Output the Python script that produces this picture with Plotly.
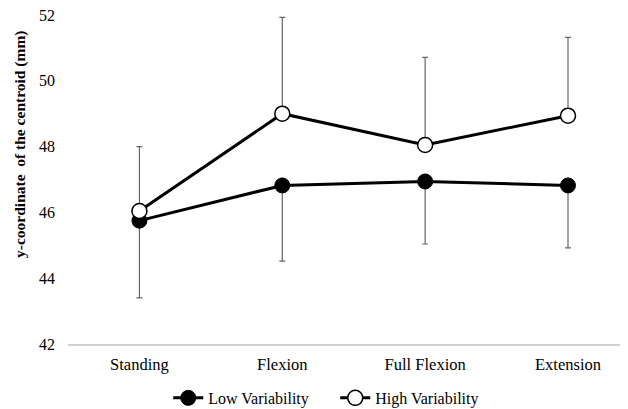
import plotly.graph_objects as go

categories = ["Standing", "Flexion", "Full Flexion", "Extension"]
low_values = [45.75, 46.82, 46.94, 46.82]
low_err_minus = [2.35, 2.3, 1.9, 1.9]
high_values = [46.04, 49.0, 48.05, 48.94]
high_err_plus = [1.96, 2.93, 2.66, 2.38]
y_ticks = [42, 44, 46, 48, 50, 52]

font_family = "Liberation Serif, Times New Roman, serif"

fig = go.Figure()
fig.add_trace(go.Scatter(
    x=categories, y=low_values, name="Low Variability",
    mode="lines+markers",
    line=dict(color="black", width=3),
    marker=dict(size=15, color="black", line=dict(color="black", width=1)),
    error_y=dict(type="data", symmetric=False,
                 array=[0] * len(low_values), arrayminus=low_err_minus,
                 color="#666666", thickness=1.2, width=3),
))
fig.add_trace(go.Scatter(
    x=categories, y=high_values, name="High Variability",
    mode="lines+markers",
    line=dict(color="black", width=3),
    marker=dict(size=15, color="white", line=dict(color="black", width=1.5)),
    error_y=dict(type="data", symmetric=False,
                 array=high_err_plus, arrayminus=[0] * len(high_values),
                 color="#666666", thickness=1.2, width=3),
))

fig.update_layout(
    width=620, height=401,
    margin=dict(l=60, r=0, t=7, b=65, autoexpand=False),
    plot_bgcolor="white", paper_bgcolor="white",
    font=dict(family=font_family, size=16, color="black"),
    showlegend=True,
    legend=dict(orientation="h", x=0.179, xanchor="left", y=-0.164, yanchor="middle",
                font=dict(family=font_family, size=16, color="black"),
                itemwidth=30, tracegroupgap=0, entrywidth=122, entrywidthmode="pixels"),
    annotations=[dict(
        text="<b>y-coordinate  of the centroid (mm)</b>",
        textangle=-90, xref="paper", yref="paper",
        x=-0.0857, y=0.605, xanchor="center", yanchor="middle",
        showarrow=False, font=dict(size=15.5, family=font_family, color="black"),
    )],
)
fig.update_xaxes(
    type="category", range=[-0.5, 3.42], automargin=False,
    showline=True, linecolor="#d0d0d0", linewidth=1.5,
    showgrid=False, ticks="", tickfont=dict(size=16.5), ticklabelstandoff=4,
)
fig.update_yaxes(
    range=[42, 52], tickvals=y_ticks, showgrid=False, zeroline=False,
    showline=False, ticks="", tickfont=dict(size=16), automargin=False,
    ticklabelstandoff=12, ticklabeloverflow="allow",
)

fig.write_html("out.html")
